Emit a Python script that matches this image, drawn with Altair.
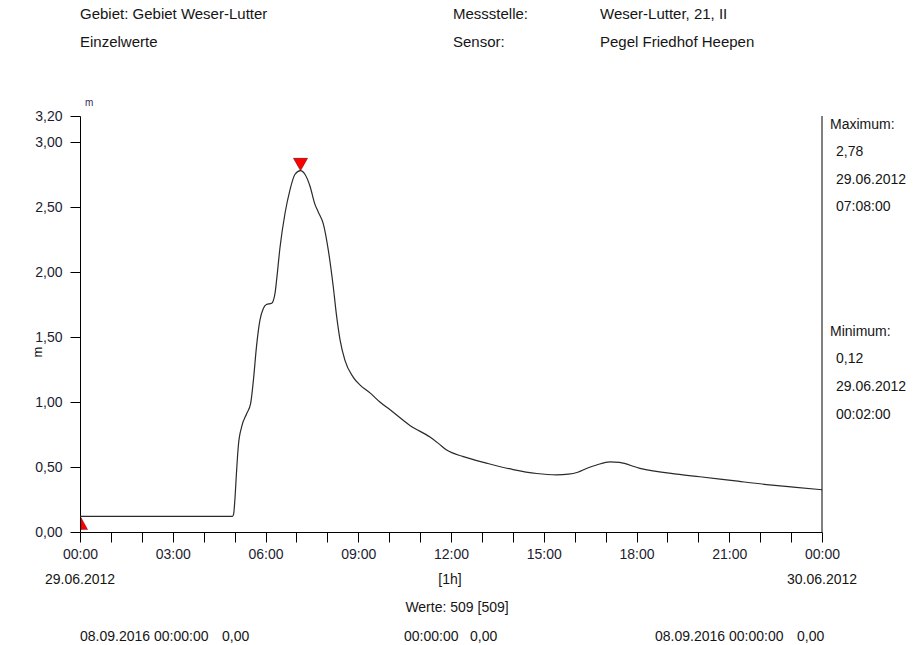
import altair as alt
import pandas as pd

# ---- data ----
hours = [0, 0.033, 4.93, 4.97, 5.01, 5.06, 5.12, 5.23, 5.39, 5.52, 5.61, 5.71, 5.82, 5.93,
         6.03, 6.2, 6.31, 6.36, 6.47, 6.63, 6.79, 6.95, 7.13, 7.28, 7.44, 7.6, 7.71, 7.87,
         8.03, 8.19, 8.3, 8.41, 8.57, 8.84, 9.06, 9.38, 9.7, 10.03, 10.67, 11.32, 11.6,
         11.86, 12.4, 13.15, 14.01, 14.77, 15.42, 15.8, 16.1, 16.4, 16.71, 17.14, 17.45, 18.11,
         19.3, 20.05, 21.13, 22.21, 23.07, 24.0]
level = [0.12, 0.12, 0.12, 0.14, 0.25, 0.45, 0.66, 0.81, 0.91, 0.99, 1.17, 1.43, 1.63, 1.72,
         1.75, 1.76, 1.84, 1.94, 2.19, 2.45, 2.63, 2.75, 2.78, 2.75, 2.66, 2.52, 2.46, 2.37,
         2.17, 1.89, 1.66, 1.48, 1.32, 1.19, 1.13, 1.07, 1.0, 0.94, 0.82, 0.73, 0.68,
         0.63, 0.58, 0.53, 0.48, 0.45, 0.44, 0.445, 0.46, 0.49, 0.515, 0.54, 0.535, 0.49,
         0.445, 0.425, 0.395, 0.365, 0.345, 0.325]

x_tick_values = list(range(0, 25))
x_tick_labels = ["00:00", "", "", "03:00", "", "", "06:00", "", "", "09:00", "", "",
                 "12:00", "", "", "15:00", "", "", "18:00", "", "", "21:00", "", "", "00:00"]
y_tick_values = [0, 0.5, 1.0, 1.5, 2.0, 2.5, 3.0, 3.2]

max_time, max_val = [7.133], [2.78]
min_time, min_val = [0.033], [0.12]

header_texts = ["Gebiet: Gebiet Weser-Lutter", "Einzelwerte", "Messstelle:", "Sensor:",
                "Weser-Lutter, 21, II", "Pegel Friedhof Heepen"]
stat_texts = ["Maximum:", "2,78", "29.06.2012", "07:08:00",
              "Minimum:", "0,12", "29.06.2012", "00:02:00"]
footer_texts = ["29.06.2012", "30.06.2012", "[1h]", "Werte: 509 [509]",
                "08.09.2016 00:00:00", "0,00", "00:00:00", "0,00", "08.09.2016 00:00:00", "0,00"]

# ---- layout ----
W, H = 742, 416
FONT = "Liberation Sans"
TXT = "#151515"
LBL = "#1c1c30"

df = pd.DataFrame({"h": hours, "v": level})

label_arr = "[" + ",".join("'" + s + "'" for s in x_tick_labels) + "]"

x_enc = alt.X("h:Q", scale=alt.Scale(domain=[0, 24], nice=False, zero=False),
              axis=alt.Axis(values=x_tick_values, labelExpr=label_arr + "[datum.value]",
                            title=None, grid=False, tickSize=10, labelPadding=5,
                            labelOverlap=False, labelFlush=False,
                            domainColor="black", tickColor="black",
                            labelFont=FONT, labelFontSize=14, labelColor=LBL))
y_enc = alt.Y("v:Q", scale=alt.Scale(domain=[0, 3.2], nice=False),
              axis=alt.Axis(values=y_tick_values,
                            labelExpr="replace(format(datum.value, '.2f'), '.', ',')",
                            title=None, grid=False, tickSize=10, labelPadding=8,
                            labelOverlap=False, labelFlush=False,
                            domainColor="black", tickColor="black",
                            labelFont=FONT, labelFontSize=14, labelColor=LBL))

line = alt.Chart(df).mark_line(color="#2a2a2a", strokeWidth=1.2, interpolate="monotone").encode(
    x=x_enc, y=y_enc)

peak = alt.Chart(pd.DataFrame({"h": max_time, "v": max_val})).mark_point(
    shape="M-1,-1.75L1,-1.75L0,0Z", size=196, filled=True, fill="#ff0000",
    stroke="#6a0000", strokeWidth=0.6, opacity=1).encode(x=x_enc, y=y_enc)

low = alt.Chart(pd.DataFrame({"h": min_time, "v": min_val})).mark_point(
    shape="M0,0.2L0,2.2L1.1,2.2Z", size=144, filled=True, fill="#ff0000",
    stroke="#6a0000", strokeWidth=0.4, opacity=1).encode(x=x_enc, y=y_enc)

dummy = pd.DataFrame({"a": [0]})


def txt(s, px, py, size=14, align="left", color=TXT, angle=0):
    return alt.Chart(dummy).mark_text(
        align=align, baseline="middle", font=FONT, fontSize=size, color=color, angle=angle
    ).encode(x=alt.value(px), y=alt.value(py), text=alt.value(s))


texts = [
    txt(header_texts[0], 0, -102, 15),
    txt(header_texts[1], 0, -74, 15),
    txt(header_texts[2], 373, -102, 15),
    txt(header_texts[3], 373, -74, 15),
    txt(header_texts[4], 520, -102, 15),
    txt(header_texts[5], 520, -74, 15),
    txt("m", 5, -13, 10, color="#3a2a5a"),
    txt("m", -42, 236, 13, align="center", angle=270),
    txt(stat_texts[0], 750, 9),
    txt(stat_texts[1], 756, 36),
    txt(stat_texts[2], 756, 64),
    txt(stat_texts[3], 756, 91),
    txt(stat_texts[4], 750, 216),
    txt(stat_texts[5], 756, 243),
    txt(stat_texts[6], 756, 271),
    txt(stat_texts[7], 756, 299),
    txt(footer_texts[0], 0, 464, align="center"),
    txt(footer_texts[1], W, 464, align="center"),
    txt(footer_texts[2], 370, 464, align="center"),
    txt(footer_texts[3], 377, 492, align="center"),
    txt(footer_texts[4], 0, 521),
    txt(footer_texts[5], 142, 521),
    txt(footer_texts[6], 324, 521),
    txt(footer_texts[7], 390, 521),
    txt(footer_texts[8], 575, 521),
    txt(footer_texts[9], 717, 521),
]

border = alt.Chart(dummy).mark_rule(color="black", strokeWidth=1).encode(
    x=alt.value(W), y=alt.value(0), y2=alt.value(H))

chart = alt.layer(line, border, peak, low, *texts).properties(
    width=W, height=H,
    autosize=alt.AutoSizeParams(type="none"),
    padding={"left": 80, "top": 116, "right": 96, "bottom": 113},
    background="white",
).configure_view(stroke=None)

chart.save("out.html", embed_options={"renderer": "svg", "actions": False})
